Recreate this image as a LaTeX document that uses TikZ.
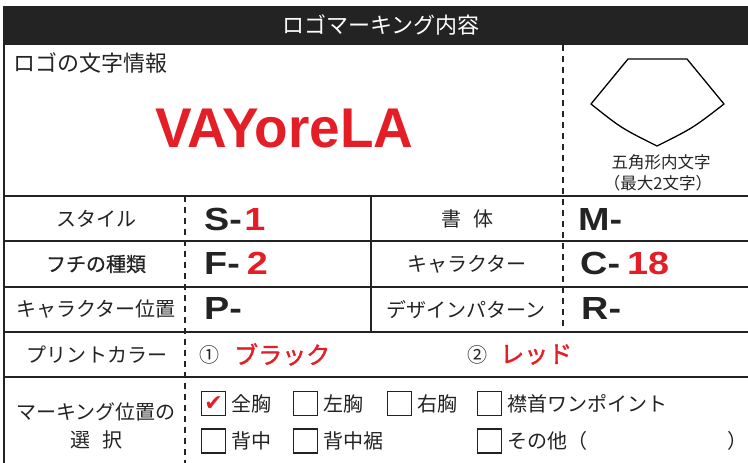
\documentclass[tikz,border=0pt]{standalone}
\usepackage{fontspec}
\setmainfont{Noto Sans CJK JP}
\newfontfamily\latin{Liberation Sans}
\newfontfamily\jpmed[FakeBold=0.6]{Noto Sans CJK JP}
\newfontfamily\jpbold[FakeBold=1.6]{Noto Sans CJK JP}
\newfontfamily\sym{DejaVu Sans}
\usetikzlibrary{positioning}
\definecolor{logored}{RGB}{228,30,38}
\definecolor{ink}{RGB}{35,35,35}
\begin{document}
\begin{tikzpicture}[x=1bp,y=-1bp,
  gridline/.style={line width=1.3bp,draw=ink},
  cutline/.style={line width=1.3bp,draw=ink,dash pattern=on 6bp off 5bp},
  lab/.style={font=\fontsize{20bp}{24bp}\selectfont,text=ink,inner sep=0},
  code/.style={font=\fontsize{32bp}{36bp}\latin\bfseries,text=ink,anchor=base west,inner sep=0,xscale=1.18},
  colr/.style={font=\fontsize{24bp}{28bp}\jpbold,text=logored},
  tick/.style={draw=ink,line width=1.2bp,minimum size=24bp,inner sep=0,anchor=west}]
\useasboundingbox (0,0) rectangle (748,463);
\pgfmathsetmacro{\xl}{4}
\pgfmathsetmacro{\xa}{185}
\pgfmathsetmacro{\xm}{371}
\pgfmathsetmacro{\xb}{563}
\pgfmathsetmacro{\xr}{748}
% header
\fill[ink] (\xl,6) rectangle (\xr,45);
\node[lab,text=white,font=\fontsize{22bp}{26bp}\selectfont] (head) at (381,25) {ロゴマーキング内容};
% rules
\draw[gridline] (\xl,6) -- (\xl,463);
\foreach \y in {196,241,287,332,377}
  \draw[gridline] (\xl,\y) -- (\xr,\y);
\draw[gridline] (\xm,196) -- (\xm,332);
\draw[cutline] (\xa,196) -- (\xa,463);
\draw[cutline] (\xb,45) -- (\xb,332);
% logo text
\node[lab,anchor=west,font=\fontsize{22bp}{26bp}\selectfont] (info) at (13,63) {ロゴの文字情報};
\node[inner sep=0,anchor=base west,text=logored,xscale=0.98,font=\fontsize{56bp}{60bp}\latin\bfseries] (logo) at (155,148) {VAYoreLA};
% pentagon
\draw[line width=1.3bp,line join=round] (628,59) -- (687,59) -- (724,104) .. controls (693,128) .. (657,146) .. controls (621,128) .. (591,104) -- cycle;
\node[lab,font=\fontsize{16.5bp}{20bp}\selectfont] (five) at (661,162) {五角形内文字};
\node[lab,font=\fontsize{16.5bp}{20bp}\selectfont] (max) at (658,183) {（最大2文字）};
% left rows
\node[lab] (style) at (96,218.5) {スタイル};
\node[lab,font=\fontsize{20bp}{24bp}\jpmed] (edge) at (96,264) {フチの種類};
\node[lab] (cpos) at (96,309.5) {キャラクター位置};
\node[lab] (print) at (97,354.5) {プリントカラー};
\node[lab] (mark) at (96,412) {マーキング位置の};
\node[lab] (sel) at (96,440) {選\hspace{12bp}択};
\node[code] (s) at (204,231) {S-\kern2bp\textcolor{logored}{1}};
\node[code] (f) at (204,275) {F-\kern6bp\textcolor{logored}{2}};
\node[code] (p) at (204,320) {P-};
% right rows
\node[lab] (font) at (467,218.5) {書\hspace{12bp}体};
\node[lab] (chara) at (467,264) {キャラクター};
\node[lab] (design) at (466,309.5) {デザインパターン};
\node[code] (m) at (578,231) {M-};
\node[code] (c) at (580,275) {C-\kern6bp\textcolor{logored}{18}};
\node[code] (r) at (581,320) {R-};
% print colour
\node[lab,anchor=west] (one) at (199,354.5) {①};
\node[colr,anchor=west,inner sep=0] (black) at (234,354.5) {ブラック};
\node[lab,anchor=west] (two) at (467,354.5) {②};
\node[colr,anchor=west,inner sep=0] (red) at (500,354.5) {レッド};
% marking position
\node[tick] (bzen) at (201,403.5) {};
\node[text=logored,inner sep=0,font=\fontsize{22bp}{24bp}\sym] at (bzen) {✔};
\node[lab,right=5bp of bzen] (zen) {全胸};
\node[tick] (bhida) at (293,403.5) {};
\node[lab,right=5bp of bhida] (hida) {左胸};
\node[tick] (bmigi) at (387,403.5) {};
\node[lab,right=5bp of bmigi] (migi) {右胸};
\node[tick] (beri) at (477,403.5) {};
\node[lab,right=5bp of beri] (eri) {襟首ワンポイント};
\node[tick] (bse) at (201,441) {};
\node[lab,right=5bp of bse] (se) {背中};
\node[tick] (bsuso) at (293,441) {};
\node[lab,right=5bp of bsuso] (suso) {背中裾};
\node[tick] (bother) at (477,441) {};
\node[lab,right=5bp of bother] (other) {その他（};
\node[lab,anchor=west] (close) at (727,441) {）};
\end{tikzpicture}
\end{document}
